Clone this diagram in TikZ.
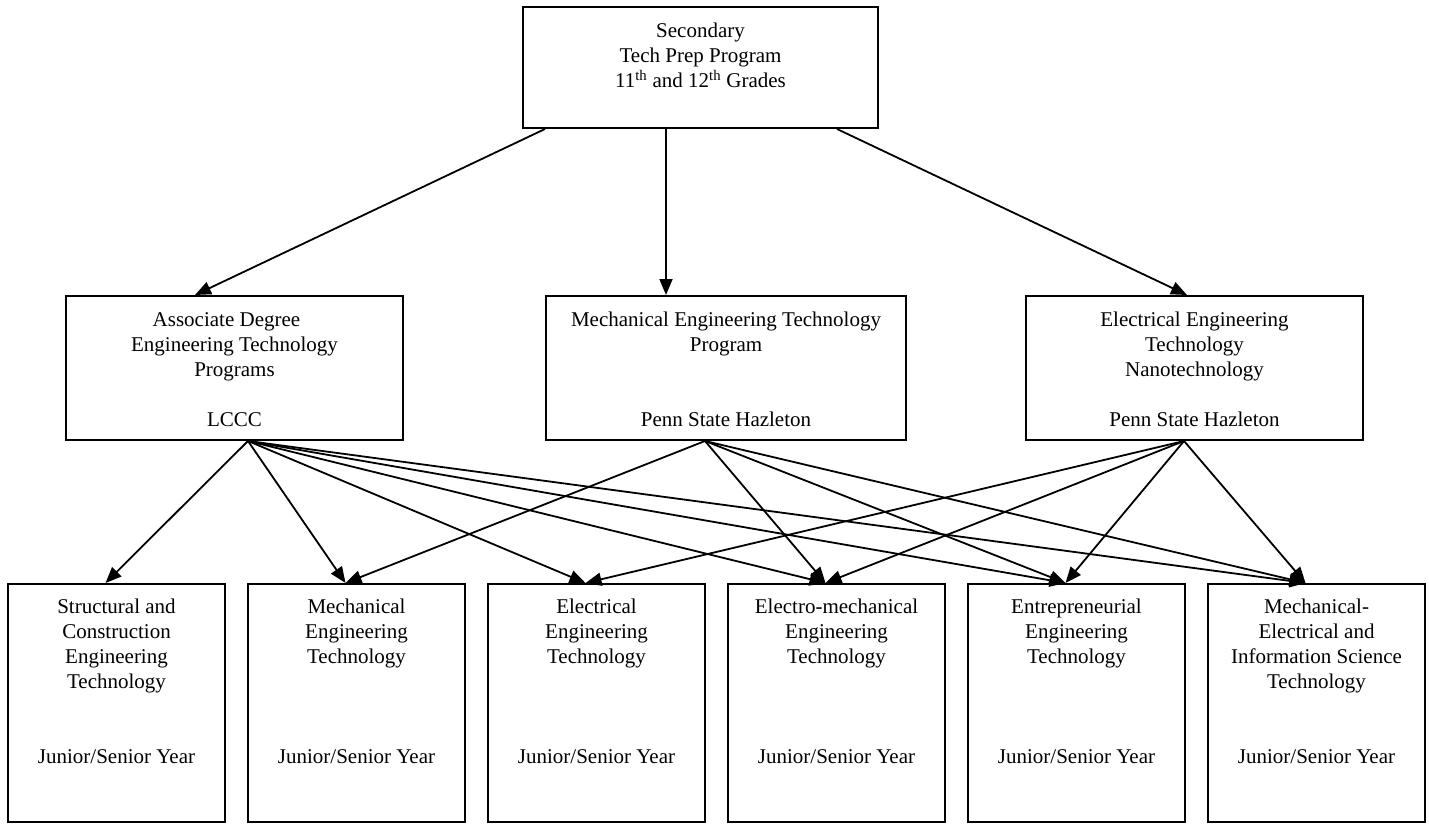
\documentclass[tikz,border=0pt]{standalone}
\usepackage{fontspec}
\setmainfont{Liberation Serif}
\usetikzlibrary{arrows.meta}
\begin{document}
\begin{tikzpicture}[x=1pt,y=-1pt,
  box/.style={draw, line width=2pt, rectangle, inner sep=0pt},
  txt/.style={align=center, inner sep=0pt, font=\fontsize{21}{25}\selectfont, anchor=north},
  arr/.style={line width=1.8pt, -{Triangle[length=16pt,width=13pt]}}]
\useasboundingbox (0,0) rectangle (1429,824);
\fill[white] (0,0) rectangle (1429,824);
% top
\node[box, minimum width=355pt, minimum height=121pt] (top) at (700.5,67.5) {};
\node[txt] (ttop) at ([yshift=-17pt]top.north) {Secondary\\Tech Prep Program\\11\textsuperscript{th} and 12\textsuperscript{th} Grades};
% middle row
\node[box, minimum width=337pt, minimum height=144pt] (lm) at (234.5,368) {};
\node[box, minimum width=360pt, minimum height=144pt] (mm) at (726,368) {};
\node[box, minimum width=337pt, minimum height=144pt] (rm) at (1194.5,368) {};
\node[txt] (tlm) at ([yshift=-17pt]lm.north) {Associate Degree\hspace*{16pt}\\Engineering Technology\\Programs\\[25pt]LCCC};
\node[txt] (tmm) at ([yshift=-17pt]mm.north) {Mechanical Engineering Technology\\Program\\[50pt]Penn State Hazleton};
\node[txt] (trm) at ([yshift=-17pt]rm.north) {Electrical Engineering\\Technology\\Nanotechnology\\[25pt]Penn State Hazleton};
% bottom row
\foreach \i/\x in {1/116.5,2/356.5,3/596.5,4/836.5,5/1076.5,6/1316.5}{
  \node[box, minimum width=217pt, minimum height=238pt] (b\i) at (\x,703) {};
  \coordinate (e\i) at ([xshift=-11pt]b\i.north);
}
\node[txt] (tb1) at ([yshift=-16pt]b1.north) {Structural and\\Construction\\Engineering\\Technology\\[50pt]Junior/Senior Year};
\node[txt] (tb2) at ([yshift=-16pt]b2.north) {Mechanical\\Engineering\\Technology\\[75pt]Junior/Senior Year};
\node[txt] (tb3) at ([yshift=-16pt]b3.north) {Electrical\\Engineering\\Technology\\[75pt]Junior/Senior Year};
\node[txt] (tb4) at ([yshift=-16pt]b4.north) {Electro-mechanical\\Engineering\\Technology\\[75pt]Junior/Senior Year};
\node[txt] (tb5) at ([yshift=-16pt]b5.north) {Entrepreneurial\\Engineering\\Technology\\[75pt]Junior/Senior Year};
\node[txt] (tb6) at ([yshift=-16pt]b6.north) {Mechanical-\\Electrical and\\Information Science\\Technology\\[50pt]Junior/Senior Year};
% connector points
\coordinate (s1) at ([xshift=-155.5pt]top.south);
\coordinate (s2) at ([xshift=-34.5pt]top.south);
\coordinate (s3) at ([xshift=136.5pt]top.south);
\coordinate (n1) at ([xshift=-39.5pt]lm.north);
\coordinate (n2) at ([xshift=-60pt]mm.north);
\coordinate (n3) at ([xshift=-7.5pt]rm.north);
\coordinate (ol) at ([xshift=13.5pt]lm.south);
\coordinate (om) at ([xshift=-21pt]mm.south);
\coordinate (or) at ([xshift=-10.5pt]rm.south);
% arrows
\draw[arr] (s1) -- (n1);
\draw[arr] (s2) -- (n2);
\draw[arr] (s3) -- (n3);
\foreach \j in {1,...,6}{\draw[arr] (ol) -- (e\j);}
\foreach \j in {2,4,5,6}{\draw[arr] (om) -- (e\j);}
\foreach \j in {3,4,5,6}{\draw[arr] (or) -- (e\j);}
\end{tikzpicture}
\end{document}
